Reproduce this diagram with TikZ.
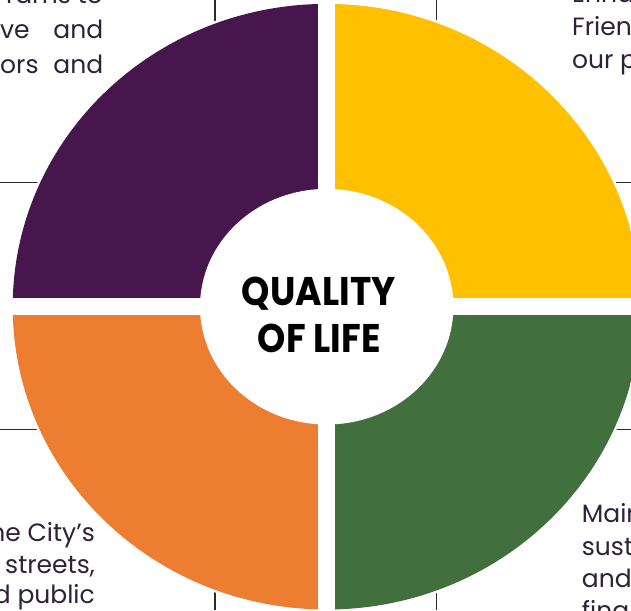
\documentclass[tikz,border=0pt]{standalone}
\usepackage{fontspec}
\setmainfont{Poppins}
\newfontfamily\qtitlefont[FakeStretch=0.9]{Poppins}
\definecolor{qpurple}{HTML}{47164C}
\definecolor{qgold}{HTML}{FFC000}
\definecolor{qorange}{HTML}{ED7D31}
\definecolor{qgreen}{HTML}{426F3E}
\definecolor{txtc}{HTML}{2F2139}
\definecolor{gridc}{HTML}{2A2A2A}
\tikzset{
  bodytxt/.style={font=\fontsize{25}{30}\selectfont, text=txtc, inner sep=0pt},
  titletxt/.style={font=\qtitlefont\fontsize{40}{48}\bfseries\selectfont, text=black, inner sep=0pt},
  gridline/.style={draw=gridc, line width=1.3pt},
}
\begin{document}
\begin{tikzpicture}[x=1pt,y=-1pt]
\useasboundingbox (0,0) rectangle (631,610);
\clip (0,0) rectangle (631,610);
\fill[white] (0,0) rectangle (631,610);
% centre of the ring
\coordinate (c) at (326.7,306.7);
% table borders behind the ring
\draw[gridline] (0,182.7) -- (120,182.7);
\draw[gridline] (0,429.3) -- (120,429.3);
\draw[gridline] (520,182.7) -- (631,182.7);
\draw[gridline] (520,429.3) -- (631,429.3);
\draw[gridline] (215,0) -- (215,80);
\draw[gridline] (436.7,0) -- (436.7,80);
\draw[gridline] (215,530) -- (215,610);
\draw[gridline] (436.7,530) -- (436.7,610);
% white halo of the ring
\fill[white] (c) ellipse [x radius=316.5, y radius=305.3];
% four quarters
\begin{scope}
  \clip (c) ellipse [x radius=314, y radius=302.8];
  \fill[qpurple] (-10,-10) rectangle (318.4,298.4);
  \fill[qgold]   (335.0,-10) rectangle (700,298.4);
  \fill[qorange] (-10,315.0) rectangle (318.4,700);
  \fill[qgreen]  (335.0,315.0) rectangle (700,700);
\end{scope}
% white centre
\fill[white] (c) ellipse [x radius=126.7, y radius=117.8];
% title
\node[titletxt, anchor=base] (ql1) at (318.7,305) {QUALITY};
\node[titletxt, anchor=base] (ql2) at (319.2,352.7) {OF LIFE};
% text fragments, top left
\node[bodytxt, anchor=base east] (tl1) at (103,3.5) {rams to};
\node[bodytxt, anchor=base west] (tl2) at (0,38) {\hbox to 103pt{ve\hfill and}};
\node[bodytxt, anchor=base west] (tl3) at (0,73) {\hbox to 103pt{ors\hfill and}};
% top right
\node[bodytxt, anchor=base west] (tr1) at (572,3) {Enha};
\node[bodytxt, anchor=base west] (tr2) at (572,35.5) {Frien};
\node[bodytxt, anchor=base west] (tr3) at (572,68) {our p};
% bottom left
\node[bodytxt, anchor=base east] (bl1) at (95,541.7) {he City’s};
\node[bodytxt, anchor=base east] (bl2) at (95,573) {streets,};
\node[bodytxt, anchor=base east] (bl3) at (95,603) {d public};
% bottom right
\node[bodytxt, anchor=base west] (br1) at (581.7,522.7) {Main};
\node[bodytxt, anchor=base west] (br2) at (581.7,555) {susta};
\node[bodytxt, anchor=base west] (br3) at (581.7,587) {and};
\node[bodytxt, anchor=base west] (br4) at (581.7,619) {fina};
\end{tikzpicture}
\end{document}
